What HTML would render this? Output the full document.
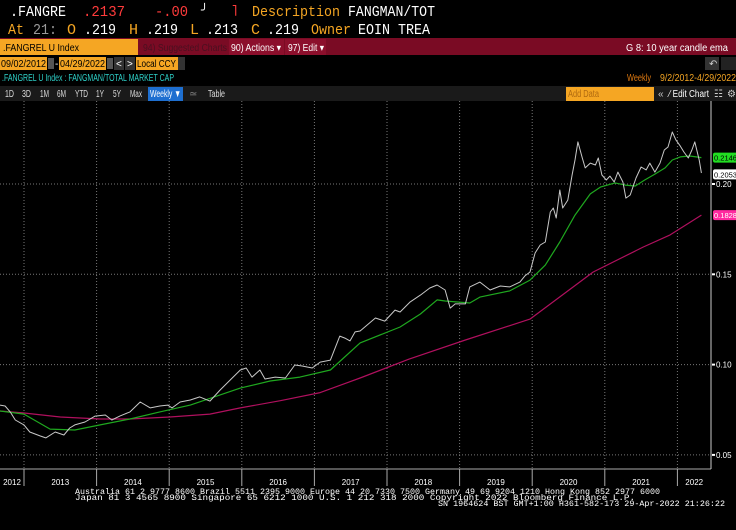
<!DOCTYPE html>
<html><head><meta charset="utf-8"><style>
html,body{margin:0;padding:0;background:#000;width:736px;height:530px;overflow:hidden}
svg{display:block}
.m{font-family:"Liberation Mono",monospace;font-size:15px}
.s{font-family:"Liberation Sans",sans-serif;font-size:10px}
.f{font-family:"Liberation Mono",monospace;font-size:8px;white-space:pre}
</style></head><body>
<svg id="c" width="736" height="530" viewBox="0 0 736 530" xmlns="http://www.w3.org/2000/svg">
<rect width="736" height="530" fill="#000"/>
<g class="m">
<text x="10" y="16" fill="#fff" textLength="56" lengthAdjust="spacingAndGlyphs">.FANGRE</text>
<text x="83" y="16" fill="#ff3b3b" textLength="42" lengthAdjust="spacingAndGlyphs">.2137</text>
<text x="155" y="16" fill="#ff3b3b" textLength="33" lengthAdjust="spacingAndGlyphs">-.00</text>
<text x="201" y="14" fill="#fff" font-size="12">╯</text>
<text x="230" y="16" fill="#ff3b3b">˥</text>
<text x="252" y="16" fill="#f5a623" textLength="88" lengthAdjust="spacingAndGlyphs">Description</text>
<text x="348" y="16" fill="#fff" textLength="87" lengthAdjust="spacingAndGlyphs">FANGMAN/TOT</text>
<text x="8" y="34" fill="#f5a623" textLength="16" lengthAdjust="spacingAndGlyphs">At</text>
<text x="33" y="34" fill="#999" textLength="24" lengthAdjust="spacingAndGlyphs">21:</text>
<text x="67" y="34" fill="#f5a623">O</text><text x="84" y="34" fill="#fff" textLength="32" lengthAdjust="spacingAndGlyphs">.219</text>
<text x="129" y="34" fill="#f5a623">H</text><text x="146" y="34" fill="#fff" textLength="32" lengthAdjust="spacingAndGlyphs">.219</text>
<text x="190" y="34" fill="#f5a623">L</text><text x="206" y="34" fill="#fff" textLength="32" lengthAdjust="spacingAndGlyphs">.213</text>
<text x="251" y="34" fill="#f5a623">C</text><text x="267" y="34" fill="#fff" textLength="32" lengthAdjust="spacingAndGlyphs">.219</text>
<text x="311" y="34" fill="#f5a623" textLength="40" lengthAdjust="spacingAndGlyphs">Owner</text><text x="358" y="34" fill="#fff" textLength="72" lengthAdjust="spacingAndGlyphs">EOIN TREA</text>
</g>
<rect x="0" y="38" width="736" height="17" fill="#7a0b24"/>
<rect x="0" y="39" width="138" height="16" fill="#f5a623"/>
<text class="s" x="3" y="51" font-size="11" fill="#000" textLength="76" lengthAdjust="spacingAndGlyphs">.FANGREL U Index</text>
<text class="s" x="143" y="51" font-size="11" fill="#4a1020" textLength="84" lengthAdjust="spacingAndGlyphs">94) Suggested Charts</text>
<rect x="229" y="39" width="55" height="16" fill="#8c0f2c"/>
<text class="s" x="231" y="51" font-size="11" fill="#fff" textLength="50" lengthAdjust="spacingAndGlyphs">90) Actions ▾</text>
<rect x="285" y="39" width="41" height="16" fill="#8c0f2c"/>
<text class="s" x="288" y="51" font-size="11" fill="#fff" textLength="36" lengthAdjust="spacingAndGlyphs">97) Edit ▾</text>
<text class="s" x="626" y="51" font-size="11" fill="#fff" textLength="102" lengthAdjust="spacingAndGlyphs">G 8: 10 year candle ema</text>
<rect x="0" y="57" width="47" height="13" fill="#f5a623"/>
<text class="s" x="1" y="67" fill="#000" textLength="45" lengthAdjust="spacingAndGlyphs">09/02/2012</text>
<rect x="48" y="58" width="6" height="11" fill="#555"/>
<text class="s" x="55" y="67" fill="#fff">-</text>
<rect x="59" y="57" width="47" height="13" fill="#f5a623"/>
<text class="s" x="60" y="67" fill="#000" textLength="45" lengthAdjust="spacingAndGlyphs">04/29/2022</text>
<rect x="107" y="58" width="6" height="11" fill="#555"/>
<rect x="114" y="57" width="10" height="13" fill="#333"/>
<text class="s" x="116" y="67" fill="#fff">&lt;</text>
<rect x="125" y="57" width="10" height="13" fill="#333"/>
<text class="s" x="127" y="67" fill="#fff">&gt;</text>
<rect x="136" y="57" width="42" height="13" fill="#f5a623"/>
<text class="s" x="137" y="67" fill="#000" textLength="39" lengthAdjust="spacingAndGlyphs">Local CCY</text>
<rect x="178" y="57" width="7" height="13" fill="#333"/>
<rect x="705" y="57" width="14" height="13" fill="#333"/>
<rect x="721" y="57" width="15" height="13" fill="#222"/>
<text class="s" x="709" y="67" fill="#ccc">↶</text>
<text class="s" x="2" y="81" fill="#2ed0c8" textLength="172" lengthAdjust="spacingAndGlyphs">.FANGREL U Index : FANGMAN/TOTAL MARKET CAP</text>
<text class="s" x="627" y="81" fill="#e07a10" textLength="24" lengthAdjust="spacingAndGlyphs">Weekly</text>
<text class="s" x="660" y="81" fill="#f5a623" textLength="76" lengthAdjust="spacingAndGlyphs">9/2/2012-4/29/2022</text>
<rect x="0" y="86" width="736" height="15" fill="#1a1a1a"/>
<g class="s" fill="#ddd" font-size="9">
<text x="5" y="97" textLength="9" lengthAdjust="spacingAndGlyphs">1D</text>
<text x="22" y="97" textLength="9" lengthAdjust="spacingAndGlyphs">3D</text>
<text x="40" y="97" textLength="9" lengthAdjust="spacingAndGlyphs">1M</text>
<text x="57" y="97" textLength="9" lengthAdjust="spacingAndGlyphs">6M</text>
<text x="75" y="97" textLength="13" lengthAdjust="spacingAndGlyphs">YTD</text>
<text x="96" y="97" textLength="8" lengthAdjust="spacingAndGlyphs">1Y</text>
<text x="113" y="97" textLength="8" lengthAdjust="spacingAndGlyphs">5Y</text>
<text x="130" y="97" textLength="12" lengthAdjust="spacingAndGlyphs">Max</text>
</g>
<rect x="148" y="87" width="35" height="14" fill="#1e6fd0"/>
<text class="s" x="150" y="97" fill="#fff" font-size="9" textLength="31" lengthAdjust="spacingAndGlyphs">Weekly ▼</text>
<text class="s" x="189" y="97" fill="#888">≃</text>
<text class="s" x="208" y="97" fill="#ddd" font-size="9" textLength="17" lengthAdjust="spacingAndGlyphs">Table</text>
<rect x="566" y="87" width="88" height="14" fill="#f5a623"/>
<text class="s" x="568" y="97" fill="#b06a10" font-size="9" textLength="31" lengthAdjust="spacingAndGlyphs">Add Data</text>
<text class="s" x="658" y="97" fill="#ccc">«</text>
<text class="s" x="669" y="97" fill="#fff" font-size="9" textLength="40" lengthAdjust="spacingAndGlyphs">⁄ Edit Chart</text>
<text class="s" x="714" y="97" fill="#ccc" font-size="9">☷</text>
<text class="s" x="727" y="97" fill="#ccc" font-size="9">⚙</text>
<g id="plot"></g>
<g class="f" fill="#fff">
<text x="75" y="494" textLength="585" lengthAdjust="spacingAndGlyphs">Australia 61 2 9777 8600 Brazil 5511 2395 9000 Europe 44 20 7330 7500 Germany 49 69 9204 1210 Hong Kong 852 2977 6000</text>
<text x="75" y="500" textLength="560" lengthAdjust="spacingAndGlyphs">Japan 81 3 4565 8900      Singapore 65 6212 1000       U.S. 1 212 318 2000        Copyright 2022 Bloomberg Finance L.P.</text>
<text x="438" y="506" textLength="287" lengthAdjust="spacingAndGlyphs">SN 1964624 BST  GMT+1:00 H361-582-173 29-Apr-2022 21:26:22</text>
</g>
</svg>
<script>
const years=[2012,2013,2014,2015,2016,2017,2018,2019,2020,2021,2022];
const yTicks=[0.05,0.10,0.15,0.20];
const priceDates=[2012.67,2012.74,2012.81,2012.88,2013.00,2013.08,2013.22,2013.30,2013.43,2013.55,2013.63,2013.70,2013.84,2013.98,2014.12,2014.21,2014.32,2014.46,2014.60,2014.74,2014.87,2014.98,2015.04,2015.15,2015.29,2015.42,2015.56,2015.70,2015.84,2015.98,2016.06,2016.14,2016.25,2016.32,2016.46,2016.60,2016.73,2016.83,2016.97,2017.08,2017.22,2017.35,2017.42,2017.49,2017.56,2017.63,2017.84,2017.97,2018.11,2018.18,2018.32,2018.46,2018.59,2018.69,2018.80,2018.87,2018.94,2019.08,2019.14,2019.28,2019.42,2019.56,2019.69,2019.83,2019.90,2019.97,2020.04,2020.11,2020.18,2020.25,2020.29,2020.33,2020.38,2020.42,2020.49,2020.55,2020.59,2020.63,2020.69,2020.73,2020.80,2020.87,2020.91,2020.96,2021.02,2021.07,2021.13,2021.18,2021.25,2021.29,2021.35,2021.43,2021.50,2021.57,2021.62,2021.69,2021.76,2021.82,2021.87,2021.93,2021.98,2022.04,2022.09,2022.15,2022.20,2022.24,2022.30,2022.33];
const priceValues=[0.0776,0.0771,0.0738,0.0693,0.0666,0.0627,0.0605,0.0594,0.0627,0.0610,0.0649,0.0666,0.0682,0.0715,0.0721,0.0693,0.0715,0.0738,0.0793,0.0760,0.0771,0.0776,0.0760,0.0793,0.0804,0.0821,0.0798,0.0859,0.0915,0.0970,0.0981,0.0931,0.0970,0.0920,0.0931,0.0926,0.0998,0.0992,0.0981,0.1014,0.1025,0.1158,0.1147,0.1131,0.1181,0.1186,0.1258,0.1241,0.1302,0.1291,0.1347,0.1385,0.1424,0.1441,0.1413,0.1313,0.1336,0.1336,0.1430,0.1457,0.1413,0.1435,0.1430,0.1457,0.1491,0.1513,0.1618,0.1662,0.1679,0.1845,0.1867,0.1812,0.1967,0.1867,0.1911,0.2050,0.2133,0.2233,0.2144,0.2089,0.2116,0.2105,0.2144,0.2050,0.2022,0.2044,0.2011,0.2066,0.2011,0.1922,0.1939,0.2033,0.2094,0.2078,0.2116,0.2066,0.2116,0.2188,0.2205,0.2288,0.2244,0.2210,0.2177,0.2144,0.2188,0.2233,0.2133,0.2061];
const emaDates=[2012.67,2013.00,2013.36,2013.70,2014.05,2014.46,2014.87,2015.29,2015.98,2016.39,2016.80,2017.22,2017.63,2018.18,2018.46,2018.69,2018.80,2019.14,2019.28,2019.69,2019.97,2020.18,2020.38,2020.59,2020.80,2020.94,2021.14,2021.28,2021.42,2021.55,2021.69,2021.83,2021.93,2022.04,2022.17,2022.33];
const emaValues=[0.0743,0.0726,0.0643,0.0638,0.0666,0.0699,0.0738,0.0776,0.0870,0.0909,0.0931,0.0970,0.1120,0.1208,0.1280,0.1358,0.1352,0.1341,0.1374,0.1408,0.1468,0.1551,0.1679,0.1828,0.1945,0.1983,0.2006,0.1994,0.1989,0.2022,0.2055,0.2089,0.2133,0.2150,0.2155,0.2146];
const longDates=[2012.67,2013.00,2013.50,2014.05,2014.46,2015.01,2015.56,2015.98,2016.53,2017.08,2017.63,2018.30,2019.08,2019.97,2020.84,2021.53,2021.90,2022.33];
const longValues=[0.0743,0.0732,0.0710,0.0699,0.0699,0.0710,0.0726,0.0760,0.0800,0.0845,0.0926,0.1030,0.1136,0.1252,0.1513,0.1651,0.1718,0.1828];
const lastLabels=[["0.2146","#22dd22","#000",0.2146],["0.2053","#fff","#000",0.2053],["0.1828","#ff2aa0","#fff",0.1828]];

const NS="http://www.w3.org/2000/svg";
const plot=document.getElementById('plot');
const X0=0,X1=711,Y0=101,Y1=469;
const xs=t=>24+(t-2013)*72.6;
const ys=v=>184+(0.20-v)*1806;
function mk(tag,attrs,parent){const e=document.createElementNS(NS,tag);for(const k in attrs)e.setAttribute(k,attrs[k]);(parent||plot).appendChild(e);return e;}
yTicks.forEach(v=>{
  const l=mk('line',{x1:X0,x2:X1,y1:ys(v),y2:ys(v),stroke:'#777','stroke-width':1,'stroke-dasharray':'1,2'});
  
  
  const tk=mk('rect',{x:X1+1,y:ys(v)-1,width:3,height:2,fill:'#fff'});
  
  
  const t=mk('text',{x:X1+5,y:ys(v)+3,fill:'#fff','font-family':'Liberation Sans,sans-serif','font-size':8});
  t.textContent=v.toFixed(2);
  
  
});
years.forEach(yr=>{
  if(yr>2012){
    const x=xs(yr);
    const g=mk('line',{x1:x,x2:x,y1:Y0,y2:Y1,stroke:'#777','stroke-width':1,'stroke-dasharray':'1,2'});
    
    
    const s=mk('line',{x1:x,x2:x,y1:Y1,y2:486,stroke:'#aaa','stroke-width':1});
    
    
  }
  const a=Math.max(xs(yr),0),b=Math.min(xs(yr+1),X1);
  const t=mk('text',{x:(a+b)/2,y:485,fill:'#fff','font-family':'Liberation Sans,sans-serif','font-size':8,'text-anchor':'middle'});
  t.textContent=yr;
  
  
});
const ax=mk('line',{x1:X0,x2:X1,y1:Y1,y2:Y1,stroke:'#aaa'});


const ay=mk('line',{x1:X1,x2:X1,y1:Y0,y2:Y1,stroke:'#ccc'});


function series(d,v,color,w,name){
  const p=d.map((t,i)=>(i?'L':'M')+xs(t).toFixed(1)+','+ys(v[i]).toFixed(1)).join('');
  const e=mk('path',{d:p,fill:'none',stroke:color,'stroke-width':w,'stroke-linejoin':'round'});
  
  
}
series(longDates,longValues,'#b0105e',1.2,'long-ema-line');
series(emaDates,emaValues,'#1fa81f',1.2,'ema-line');
series(priceDates,priceValues,'#c8c8c8',1,'price-line');
lastLabels.forEach(([txt,bg,fg,v])=>{
  const y=ys(v);
  const r=mk('rect',{x:X1+2,y:y-5,width:25,height:10,fill:bg,rx:2});
  
  
  const t=mk('text',{x:X1+3,y:y+3,fill:fg,'font-family':'Liberation Sans,sans-serif','font-size':7.5,textLength:23,lengthAdjust:'spacingAndGlyphs'});
  t.textContent=txt;
  
  
});
</script>
</body></html>
